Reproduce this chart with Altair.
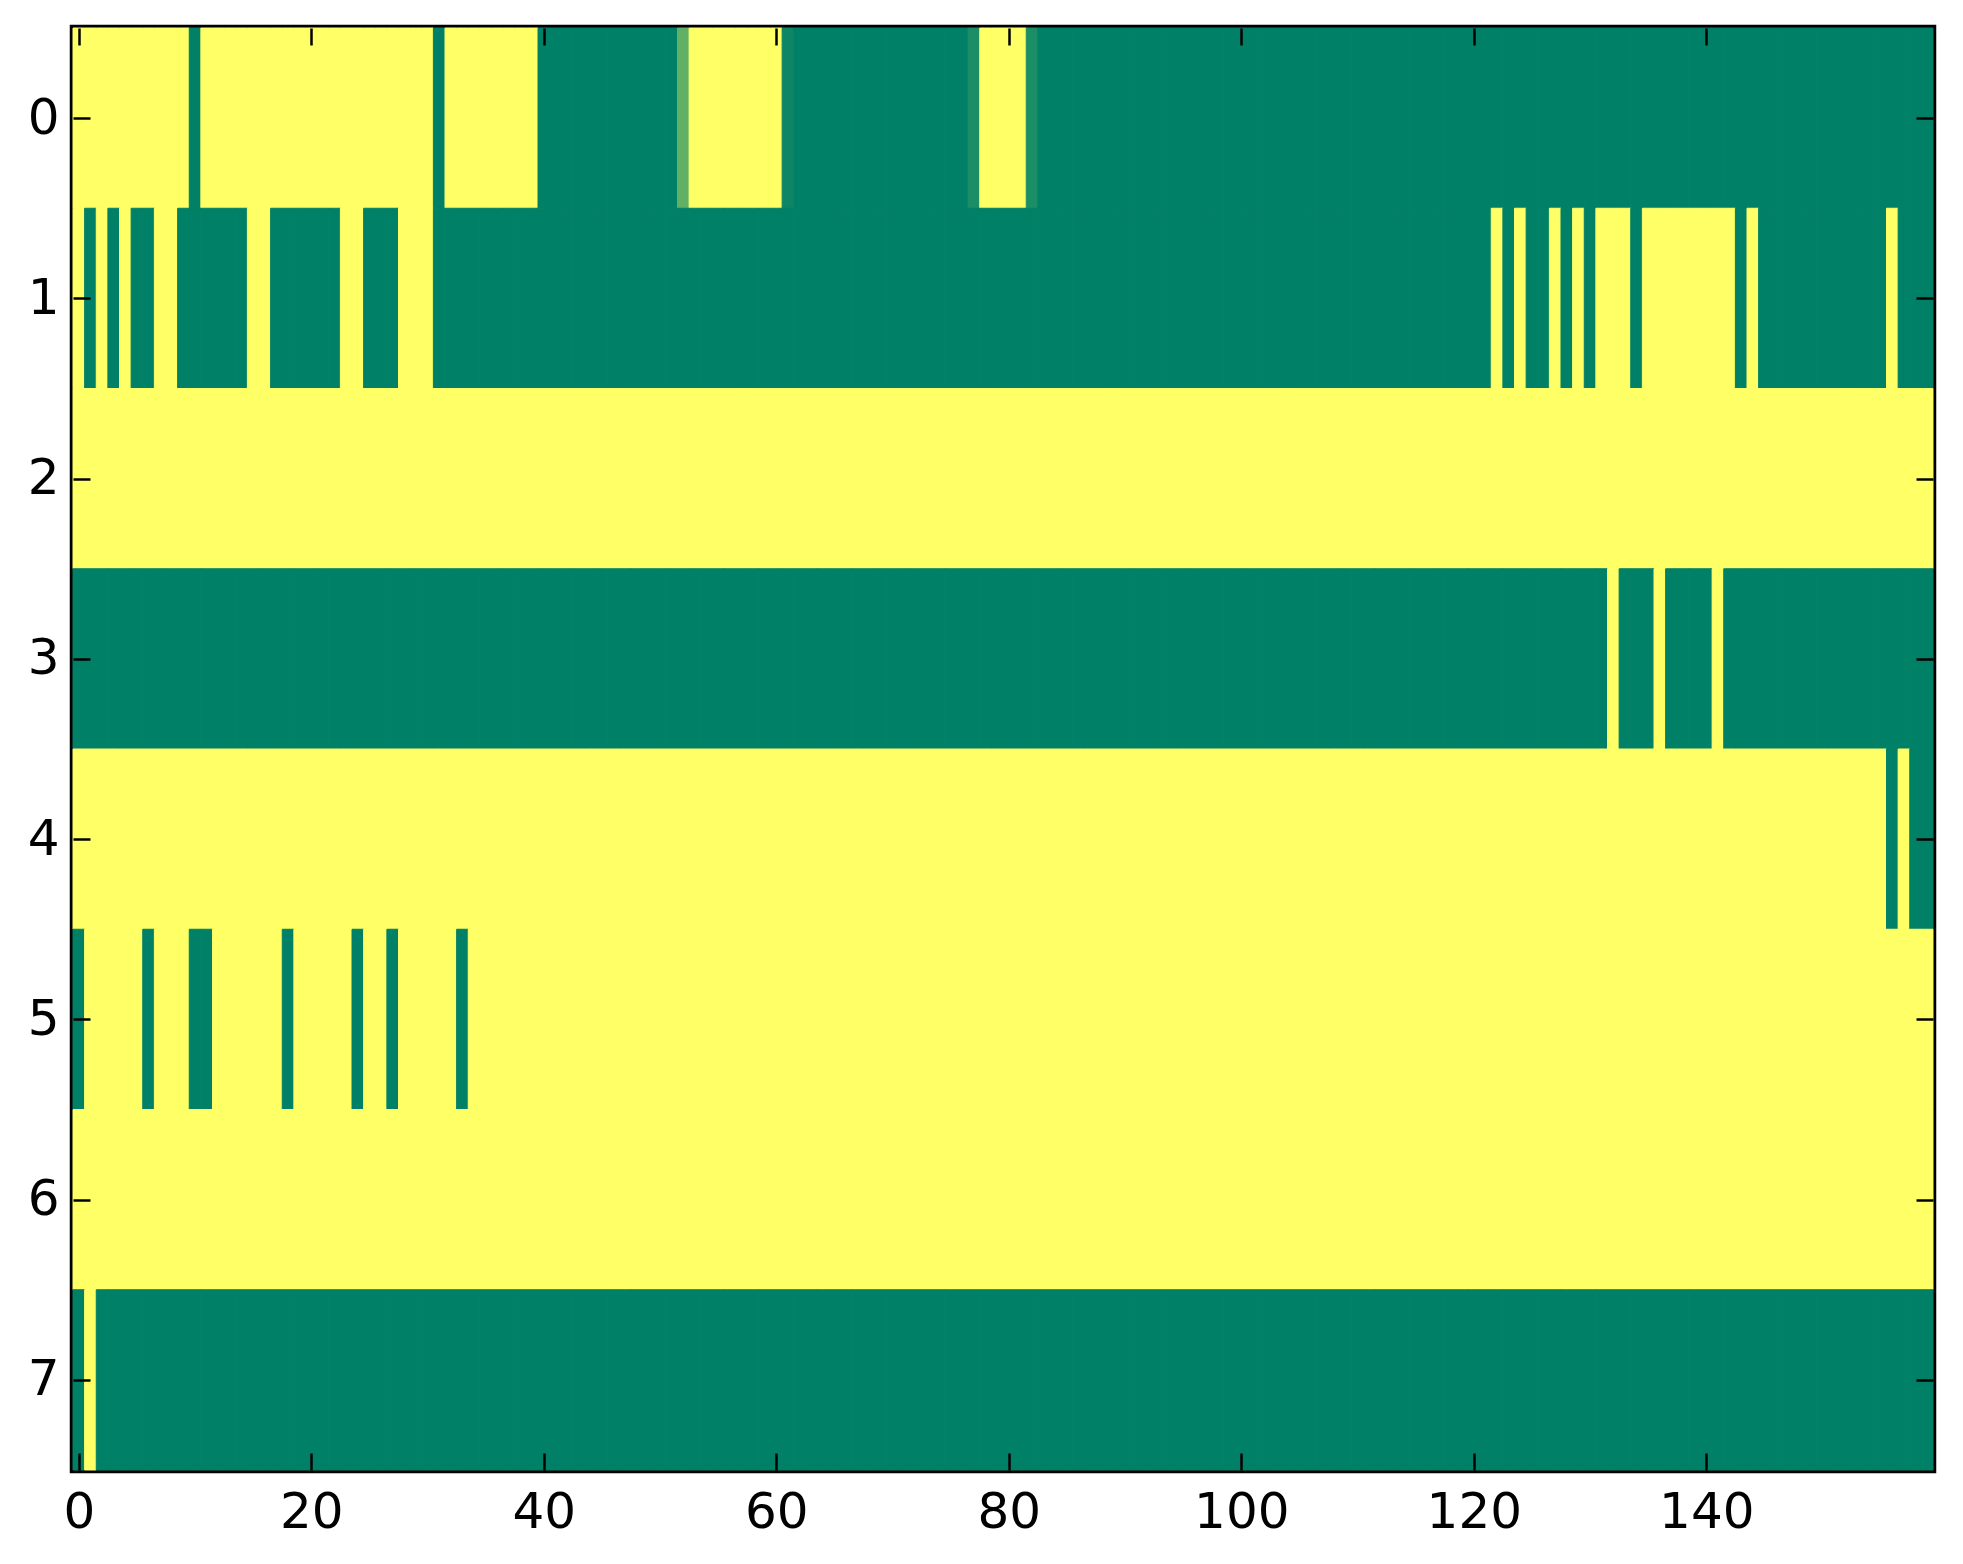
import altair as alt
import pandas as pd

# Each row is 160 cells, written as 16 chunks of 10 characters.
# "1" = yellow (1.0), "0" = green (0.0), letters = intermediate values.
CODES = {"0": 0.0, "1": 1.0, "a": 0.38, "b": 0.11, "c": 0.05}

ROW0 = ["1111111111", "0111111111", "1111111111", "1011111111",
        "0000000000", "00a1111111", "1c00000000", "0000000b11",
        "11b0000000", "0000000000", "0000000000", "0000000000",
        "0000000000", "0000000000", "0000000000", "0000000000"]
ROW1 = ["1010100110", "0000011000", "0001100011", "1000000000",
        "0000000000", "0000000000", "0000000000", "0000000000",
        "0000000000", "0000000000", "0000000000", "0000000000",
        "0010100101", "0111011111", "1110100000", "0000001000"]
ROW2 = ["1111111111"] * 16
ROW3 = ["0000000000", "0000000000", "0000000000", "0000000000",
        "0000000000", "0000000000", "0000000000", "0000000000",
        "0000000000", "0000000000", "0000000000", "0000000000",
        "0000000000", "0010001000", "0100000000", "0000000000"]
ROW4 = ["1111111111", "1111111111", "1111111111", "1111111111",
        "1111111111", "1111111111", "1111111111", "1111111111",
        "1111111111", "1111111111", "1111111111", "1111111111",
        "1111111111", "1111111111", "1111111111", "1111110100"]
ROW5 = ["0111110111", "0011111101", "1111011011", "1110111111",
        "1111111111", "1111111111", "1111111111", "1111111111",
        "1111111111", "1111111111", "1111111111", "1111111111",
        "1111111111", "1111111111", "1111111111", "1111111111"]
ROW6 = ["1111111111"] * 16
ROW7 = ["0100000000", "0000000000", "0000000000", "0000000000",
        "0000000000", "0000000000", "0000000000", "0000000000",
        "0000000000", "0000000000", "0000000000", "0000000000",
        "0000000000", "0000000000", "0000000000", "0000000000"]

ROWS = [ROW0, ROW1, ROW2, ROW3, ROW4, ROW5, ROW6, ROW7]
X_TICKS = [0, 20, 40, 60, 80, 100, 120, 140]
Y_TICKS = [0, 1, 2, 3, 4, 5, 6, 7]

GREEN = "#008066"
YELLOW = "#ffff66"

records = []
for r, chunks in enumerate(ROWS):
    s = "".join(chunks)
    assert len(s) == 160
    for c, ch in enumerate(s):
        records.append({"row": r, "col": c, "v": CODES[ch]})
df = pd.DataFrame(records)

W, H = 1860, 1442
TICK = 17

xs = alt.Scale(domain=[-0.5, 159.5], nice=False, zero=False)
ys = alt.Scale(domain=[-0.5, 7.5], reverse=True, nice=False, zero=False)
cs = alt.Scale(domain=[0, 1], range=[GREEN, YELLOW], interpolate="rgb")

common = dict(offset=-TICK, tickSize=TICK, tickWidth=2.5, tickColor="black",
              domain=False, grid=False, labelFont="DejaVu Sans",
              labelFontSize=50, labelColor="black", zindex=1,
              labelOverlap=False, labelFlush=False)

base = alt.Chart(df).transform_calculate(
    x0="datum.col - 0.5", x1="datum.col + 0.5",
    y0="datum.row - 0.5", y1="datum.row + 0.5",
)

heat = base.mark_rect(strokeWidth=1).encode(
    x=alt.X("x0:Q", scale=xs, title=None,
            axis=alt.Axis(orient="bottom", values=X_TICKS, format="d",
                          labelPadding=17, **common)),
    x2="x1:Q",
    y=alt.Y("y0:Q", scale=ys, title=None,
            axis=alt.Axis(orient="left", values=Y_TICKS, format="d",
                          labelPadding=14, **common)),
    y2="y1:Q",
    color=alt.Color("v:Q", scale=cs, legend=None),
    stroke=alt.Stroke("v:Q", scale=cs, legend=None),
)

frame = base.mark_rect(opacity=0).encode(
    x=alt.X("x0:Q", scale=xs, title=None,
            axis=alt.Axis(orient="top", values=X_TICKS, labels=False, **common)),
    x2="x1:Q",
    y=alt.Y("y0:Q", scale=ys, title=None,
            axis=alt.Axis(orient="right", values=Y_TICKS, labels=False, **common)),
    y2="y1:Q",
)

chart = (
    alt.layer(heat, frame)
    .resolve_axis(x="independent", y="independent")
    .properties(
        width=W, height=H,
        padding={"left": 65, "top": 20, "right": 14, "bottom": 80},
        autosize=alt.AutoSizeParams(type="none"),
        background="white",
    )
    .configure_view(stroke="black", strokeWidth=6.5)
)

chart.save("out.html", embed_options={"renderer": "svg", "actions": False})
